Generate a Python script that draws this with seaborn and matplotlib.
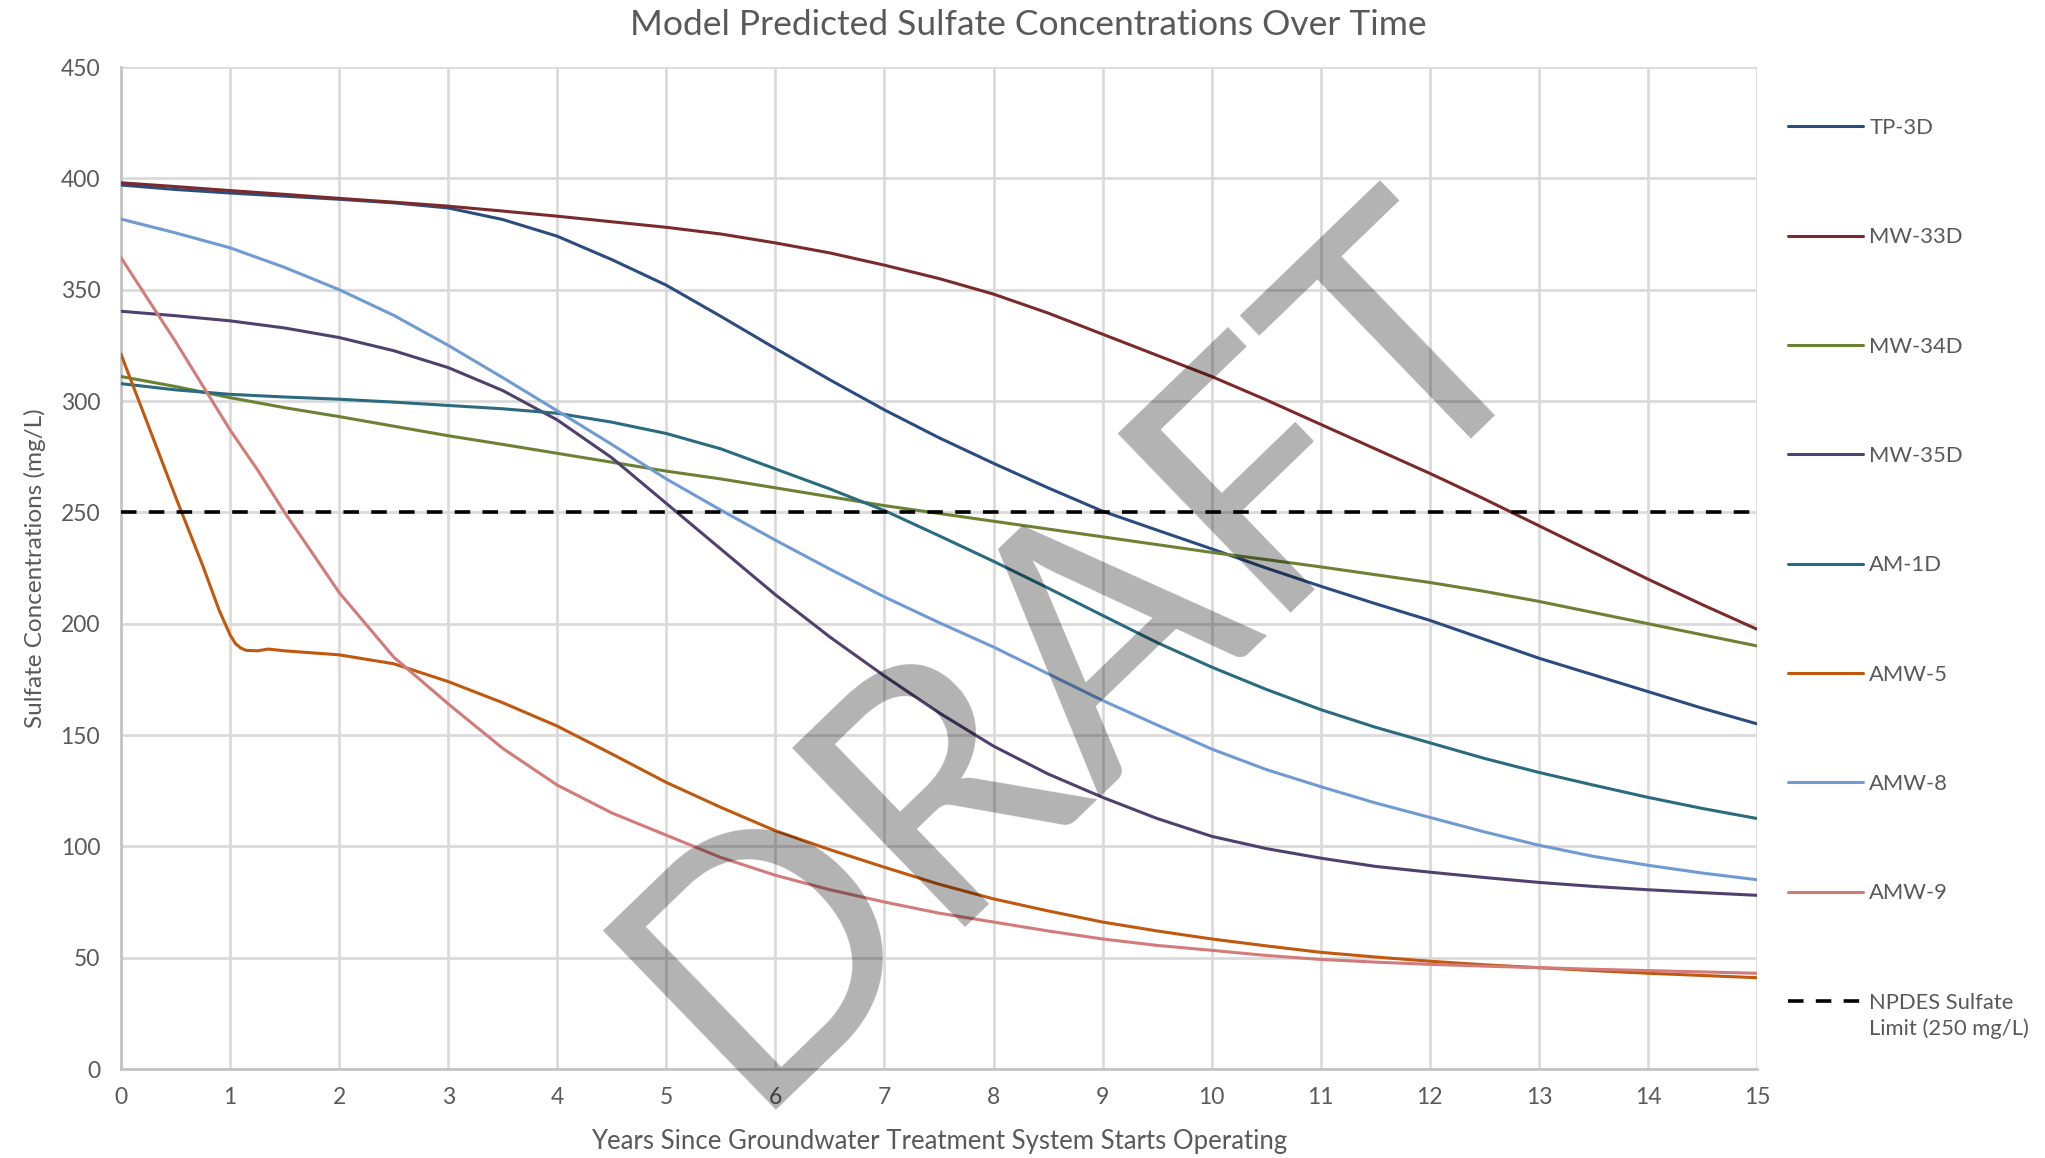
import matplotlib
matplotlib.use("Agg")
import matplotlib.pyplot as plt
from matplotlib.lines import Line2D
import seaborn as sns
import pandas as pd

# ---------------- data ----------------
series_names = ["TP-3D", "MW-33D", "MW-34D", "MW-35D", "AM-1D", "AMW-5", "AMW-8", "AMW-9"]

years_half = [0, 0.5, 1, 1.5, 2, 2.5, 3, 3.5, 4, 4.5, 5, 5.5, 6, 6.5, 7, 7.5,
              8, 8.5, 9, 9.5, 10, 10.5, 11, 11.5, 12, 12.5, 13, 13.5, 14, 14.5, 15]

tp_3d = [397, 395, 393.4, 392, 390.6, 389, 386.7, 381.5, 374, 363.5, 352, 338, 323.6, 309.5,
         296, 283.5, 272, 261, 250.5, 242, 233.6, 225, 216.8, 209, 201.5, 193, 184.5, 177,
         169.5, 162, 155]
mw_33d = [398, 396.3, 394.5, 392.8, 391, 389.3, 387.5, 385.3, 383, 380.5, 378, 375, 371, 366.5,
          361, 355, 348, 339.5, 330, 320.5, 311, 300.5, 289.5, 278.5, 267.5, 256, 244, 232,
          220, 208.5, 197.5]
mw_34d = [311, 306.5, 301.5, 297, 293, 288.7, 284.4, 280.5, 276.5, 272.5, 268.5, 265, 261, 257,
          253, 249.5, 246, 242.5, 239, 235.5, 232, 228.8, 225.5, 222, 218.5, 214.5, 210, 205,
          200, 195, 190]
mw_35d = [340.3, 338.3, 336, 332.8, 328.5, 322.6, 315, 304.7, 291.5, 274.5, 254, 233.5, 213, 194,
          176.5, 160, 145, 132.5, 122, 112.5, 104.5, 99, 94.7, 91, 88.4, 86, 83.8, 82, 80.5,
          79.2, 78]
am_1d = [307.8, 305, 303, 301.8, 300.8, 299.5, 298, 296.5, 294.5, 290.5, 285.4, 278.5, 269.5,
         260.5, 250.8, 239.5, 228, 216, 203.7, 191.5, 180.5, 170.5, 161.4, 153.5, 146.5, 139.5,
         133.2, 127.5, 122, 117, 112.5]
amw_8 = [381.7, 375.5, 368.8, 360, 350, 338.5, 325, 310.5, 295.6, 280.5, 265, 251, 237.5, 224.5,
         212, 200.5, 189.5, 177.5, 165.5, 154.5, 143.7, 134.5, 126.8, 119.5, 113, 106.5, 100.5,
         95.5, 91.5, 88, 85]

years_amw5 = [0, 0.25, 0.5, 0.75, 0.9, 1.0, 1.05, 1.1, 1.15, 1.25, 1.35, 1.5, 2, 2.5, 3, 3.5, 4,
              4.5, 5, 5.5, 6, 6.5, 7, 7.5, 8, 8.5, 9, 9.5, 10, 10.5, 11, 11.5, 12, 12.5, 13,
              13.5, 14, 14.5, 15]
amw_5 = [321, 289, 257, 226, 206, 195, 191, 189, 188, 187.8, 188.6, 187.8, 186, 182, 174, 164.5,
         154, 141.5, 128.7, 117.5, 107, 98.5, 90.6, 83, 76.4, 71, 66, 62, 58.4, 55.3, 52.4,
         50.3, 48.4, 46.8, 45.5, 44.2, 43, 42, 41]

years_amw9 = [0, 0.25, 0.5, 0.75, 1, 1.25, 1.5, 1.75, 2, 2.5, 3, 3.5, 4, 4.5, 5, 5.5, 6, 6.5, 7,
              7.5, 8, 8.5, 9, 9.5, 10, 10.5, 11, 11.5, 12, 12.5, 13, 13.5, 14, 14.5, 15]
amw_9 = [364.4, 345.5, 326.7, 306.8, 287, 269.2, 250, 232, 214, 185, 164, 144, 127.5, 115, 105,
         95, 87, 80.5, 75, 70, 66, 62, 58.4, 55.5, 53.3, 51, 49.2, 48, 47, 46.2, 45.5, 44.8,
         44.2, 43.6, 43]

npdes_limit = 250
npdes_label = "NPDES Sulfate\nLimit (250 mg/L)"

colors = ["#2B4C7E", "#7B2A2C", "#6B8235", "#51406E", "#2B6B80", "#C0580E", "#6F9BD2", "#D37A7A"]

x_ticks = list(range(0, 16))
y_ticks = list(range(0, 451, 50))

title = "Model Predicted Sulfate Concentrations Over Time"
x_label = "Years Since Groundwater Treatment System Starts Operating"
y_label = "Sulfate Concentrations (mg/L)"
watermark = "DRAFT"

# ---------------- long-form table ----------------
frames = []
for name, xs, ys in [("TP-3D", years_half, tp_3d), ("MW-33D", years_half, mw_33d),
                     ("MW-34D", years_half, mw_34d), ("MW-35D", years_half, mw_35d),
                     ("AM-1D", years_half, am_1d), ("AMW-5", years_amw5, amw_5),
                     ("AMW-8", years_half, amw_8), ("AMW-9", years_amw9, amw_9)]:
    frames.append(pd.DataFrame({"Years": xs, "Sulfate": ys, "Well": name}))
df = pd.concat(frames, ignore_index=True)

# ---------------- figure ----------------
sns.set_theme(style="white")
plt.rcParams["font.family"] = ["Lato", "DejaVu Sans"]

W, H = 2045, 1158
fig = plt.figure(figsize=(W / 100, H / 100), dpi=100)
L, R, T, B = 121, 1757, 67, 1069
ax = fig.add_axes([L / W, 1 - B / H, (R - L) / W, (B - T) / H])

palette = dict(zip(series_names, colors))
LW = 2.2
sns.lineplot(data=df, x="Years", y="Sulfate", hue="Well", hue_order=series_names,
             palette=palette, linewidth=LW, ax=ax, legend=False, estimator=None,
             sort=True, zorder=3)

ax.axhline(npdes_limit, color="black", linewidth=2.6, dashes=(4.3, 3.4), zorder=4)

ax.set_xlim(0, 15)
ax.set_ylim(0, 450)
ax.set_xticks(x_ticks)
ax.set_yticks(y_ticks)
ax.grid(True, color="#D9D9D9", linewidth=1.9, zorder=0)
ax.set_axisbelow(True)
for side in ["top", "right"]:
    ax.spines[side].set_visible(False)
for side in ["left", "bottom"]:
    ax.spines[side].set_color("#C4C4C4")
    ax.spines[side].set_linewidth(2.0)

tick_color = "#595959"
ax.tick_params(axis="both", length=0, labelsize=16.5, labelcolor=tick_color)
ax.tick_params(axis="x", pad=13)
ax.tick_params(axis="y", pad=15)

ax.set_xlabel(x_label, fontsize=18.5, color=tick_color)
ax.set_ylabel(y_label, fontsize=17.5, color=tick_color)
ax.xaxis.label.set_va("center")
ax.yaxis.label.set_va("center")
ax.xaxis.set_label_coords(0.5, (B - 1141) / (B - T))
ax.yaxis.set_label_coords((35 - L) / (R - L), 0.5)

fig.text(0.503, 1 - 25 / H, title, fontsize=25.5, color=tick_color, ha="center", va="center")

# legend
handles = [Line2D([0], [0], color=c, linewidth=LW) for c in colors]
handles.append(Line2D([0], [0], color="black", linewidth=2.6, dashes=(4.3, 3.4)))
labels = series_names + [npdes_label]
leg = ax.legend(handles, labels, loc="upper left",
                bbox_to_anchor=(1788 / W, 1 - 118 / H), bbox_transform=fig.transFigure,
                frameon=False, borderpad=0, borderaxespad=0, handlelength=3.4,
                handletextpad=0.3, labelspacing=4.07, fontsize=15.8)
for t in leg.get_texts():
    t.set_color(tick_color)
leg.get_texts()[-1].set_linespacing(1.35)
# put the dashed handle level with the first line of its two-line label
npdes_handle = leg.legend_handles[-1]
yd = npdes_handle.get_ydata()
npdes_handle.set_ydata([v + 11 for v in yd])

# watermark
fig.text(1146 / W, 1 - 722 / H, watermark, fontsize=250, color="black", alpha=0.3,
         rotation=44, rotation_mode="anchor", ha="center", va="baseline", zorder=10)

fig.savefig("out.png", dpi=100)
